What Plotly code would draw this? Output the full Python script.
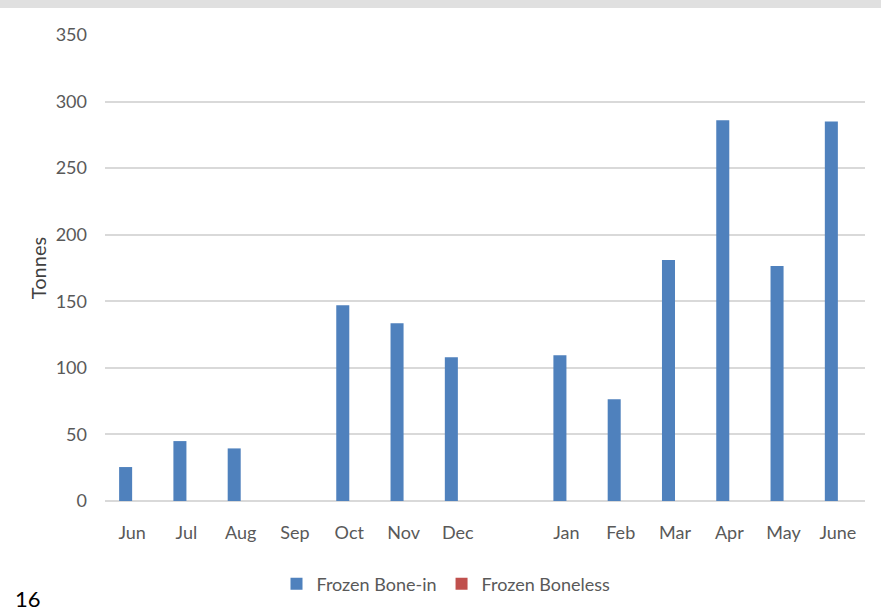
import plotly.graph_objects as go

# Monthly volumes; the blank category separates the two halves of the season
months = ["Jun", "Jul", "Aug", "Sep", "Oct", "Nov", "Dec", " ",
          "Jan", "Feb", "Mar", "Apr", "May", "June"]
bone_in = [25.5, 45, 39.5, 0, 147, 133.5, 108, None,
           109.5, 76.5, 181, 286, 176.5, 285]
boneless = [0, 0, 0, 0, 0, 0, 0, None,
            0, 0, 0, 0, 0, 0]

W, H = 881, 613
left, right, top, bottom = 105, 16, 35, 111
plot_w = W - left - right
plot_h = H - top - bottom

font_family = "Lato, 'Open Sans', sans-serif"
text_grey = "#595959"

fig = go.Figure()
fig.add_trace(go.Bar(x=months, y=bone_in, name="Frozen Bone-in",
                     marker=dict(color="#4f81bd", line=dict(width=0))))
fig.add_trace(go.Bar(x=months, y=boneless, name="Frozen Boneless",
                     marker=dict(color="#c0504d", line=dict(width=0))))

fig.update_layout(
    width=W, height=H,
    margin=dict(l=left, r=right, t=top, b=bottom),
    paper_bgcolor="white", plot_bgcolor="white",
    barmode="group", bargap=0.52, bargroupgap=0,
    font=dict(family=font_family, color=text_grey, size=18),
    showlegend=True,
    legend=dict(orientation="h", x=(446 - left) / plot_w, xanchor="center",
                y=(502 - 584) / plot_h, yanchor="middle",
                font=dict(size=18, color=text_grey),
                itemwidth=30, traceorder="normal"),
    xaxis=dict(type="category", showgrid=False, showline=False, zeroline=False,
               ticks="", tickfont=dict(size=18, color=text_grey), ticklabelstandoff=19),
    yaxis=dict(range=[0, 350], dtick=50, showgrid=True, gridcolor="#d9d9d9",
               gridwidth=1.6, zeroline=True, zerolinecolor="#d9d9d9", zerolinewidth=1.6,
               showline=False, ticks="", tickfont=dict(size=18, color=text_grey),
               ticklabelstandoff=17,
               title=dict(text="Tonnes", font=dict(size=20, color="#404040"), standoff=3)),
    shapes=[dict(type="rect", xref="paper", yref="paper",
                 x0=-left / plot_w, x1=1 + right / plot_w,
                 y0=1 + (top - 8) / plot_h, y1=1 + top / plot_h,
                 fillcolor="#e0e0e0", line=dict(width=0), layer="below")],
    annotations=[dict(text="16", xref="paper", yref="paper",
                      x=(28 - left) / plot_w, y=(502 - 600) / plot_h,
                      xanchor="center", yanchor="middle", showarrow=False,
                      font=dict(size=22, color="#000000", family=font_family))],
)

fig.write_html("out.html")
